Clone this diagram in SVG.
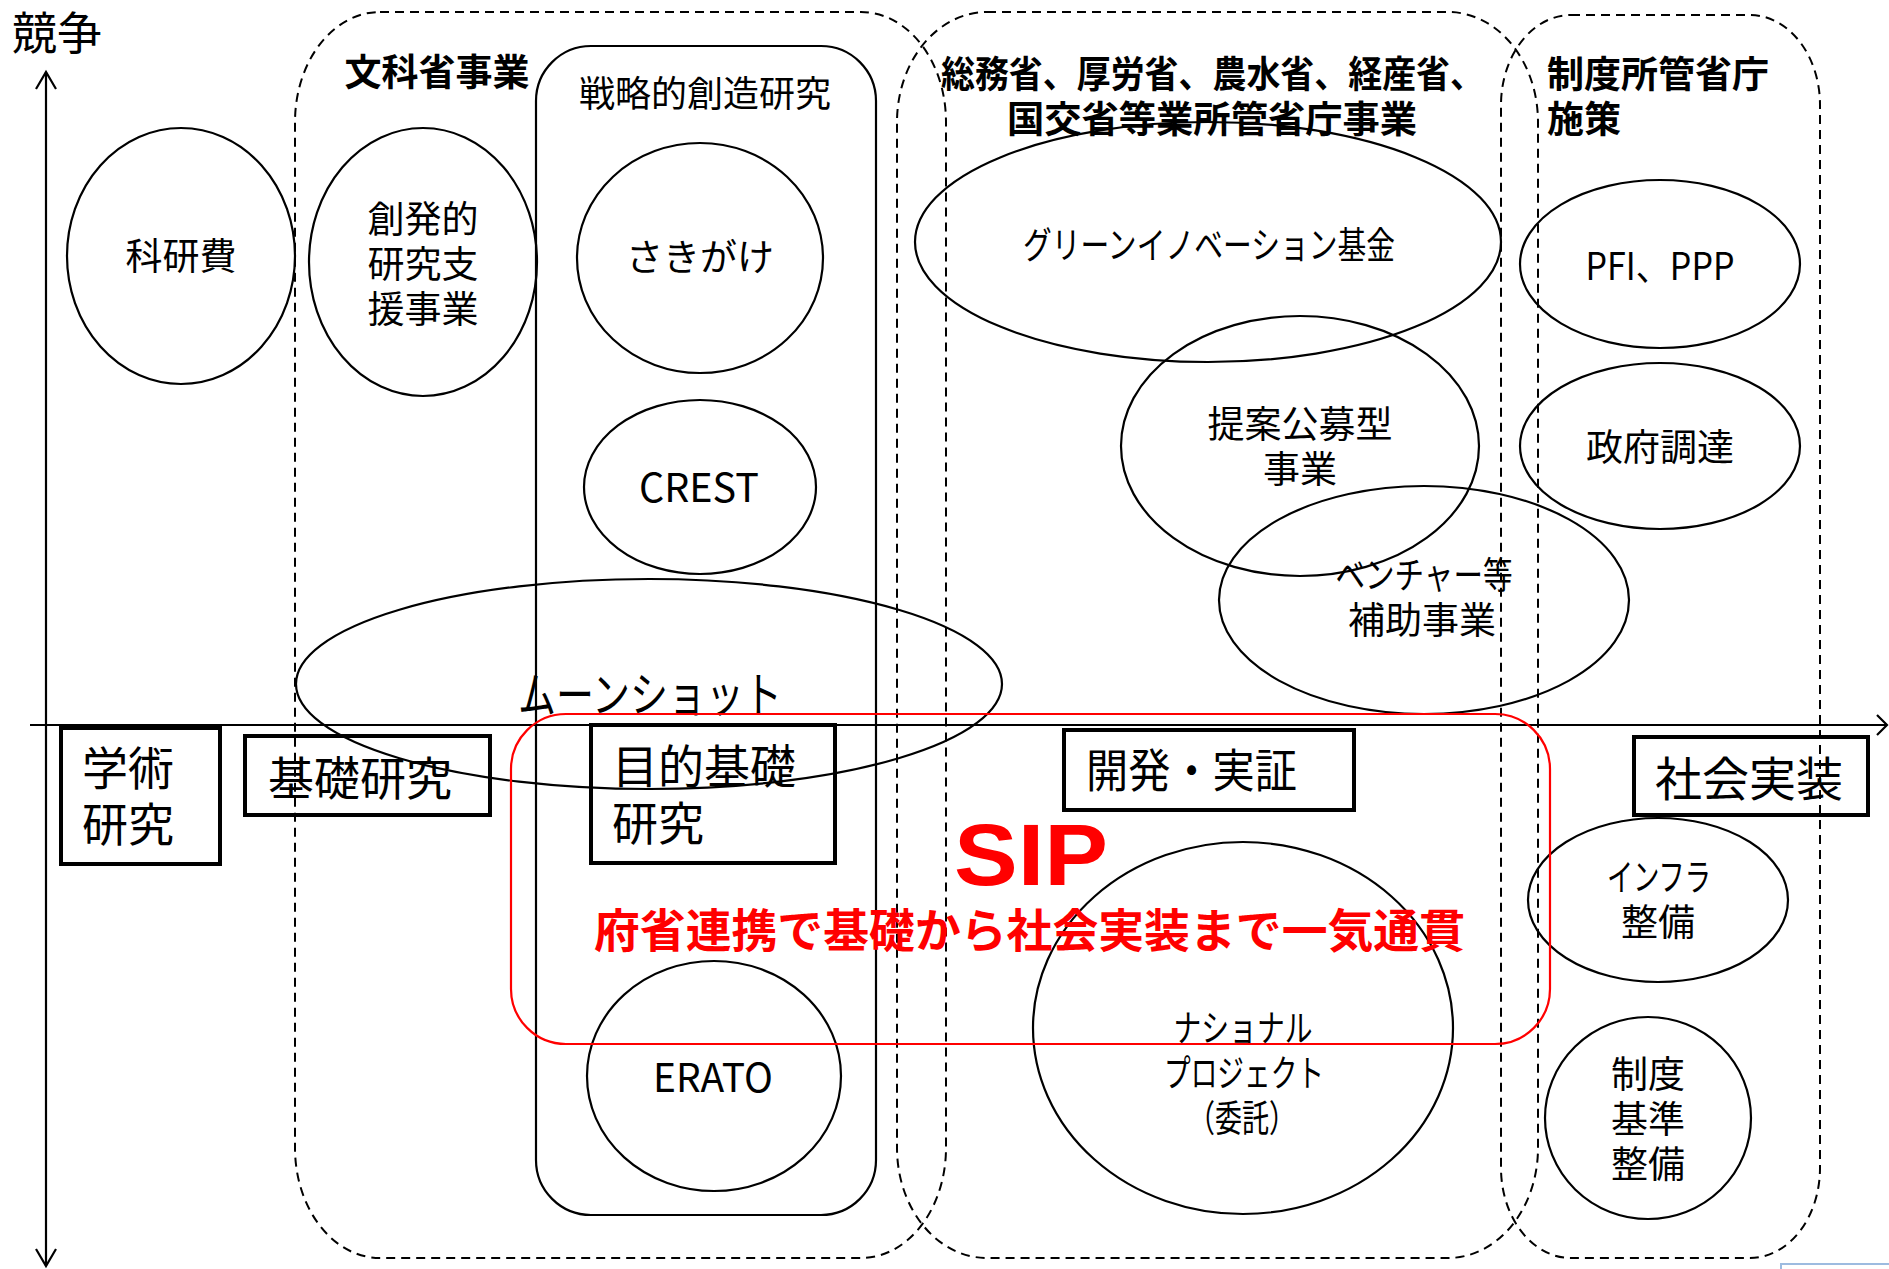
<svg xmlns="http://www.w3.org/2000/svg" width="1889" height="1269" viewBox="0 0 1889 1269">
<style>
 text { font-family: "Noto Sans CJK JP", "Noto Sans", sans-serif; fill:#000; }
 .t37 { font-size:37px; }
 .t46 { font-size:46px; }
 .b { font-weight:bold; }
 .mid { text-anchor:middle; }
 .ell { fill:none; stroke:#000; stroke-width:2.2; }
 .box { fill:none; stroke:#000; stroke-width:4; }
 .grp { fill:none; stroke:#000; stroke-width:2; stroke-dasharray:9 6; }
 .axis { fill:none; stroke:#000; stroke-width:2.2; }
 .red { fill:#ff0000; }
</style>
<rect width="1889" height="1269" fill="#fff"/>

<g id="connectors">
 <line class="axis" x1="46" y1="72" x2="46" y2="1266"/>
 <polyline class="axis" points="36,89 46,72 56,89"/>
 <polyline class="axis" points="36,1249 46,1266 56,1249"/>
 <line class="axis" x1="30" y1="725" x2="1887" y2="725"/>
 <polyline class="axis" points="1877,715 1887,725 1877,735"/>
</g>

<g id="label-kyoso"><text x="12" y="50" style="font-size:45px">競争</text></g>

<g id="grp-monka">
 <rect class="grp" x="295" y="12" width="651" height="1246" rx="85" ry="110"/>
 <text class="t37 b mid" x="437" y="86">文科省事業</text>
</g>
<g id="grp-others">
 <rect class="grp" x="897" y="12" width="641" height="1246" rx="90" ry="110"/>
 <text class="t37 b"><tspan x="941" y="88" textLength="543" lengthAdjust="spacingAndGlyphs">総務省、厚労省、農水省、経産省、</tspan><tspan x="1007" y="133" textLength="410" lengthAdjust="spacingAndGlyphs">国交省等業所管省庁事業</tspan></text>
</g>
<g id="grp-seido">
 <rect class="grp" x="1501" y="15" width="319" height="1243" rx="70" ry="90"/>
 <text class="t37 b"><tspan x="1547" y="88">制度所管省庁</tspan><tspan x="1547" y="133">施策</tspan></text>
</g>
<g id="senryaku">
 <rect x="536" y="46" width="340" height="1169" rx="55" ry="55" fill="none" stroke="#000" stroke-width="2.2"/>
 <text class="mid" x="705" y="107" style="font-size:36px">戦略的創造研究</text>
</g>

<g id="kakenhi">
 <ellipse class="ell" cx="181" cy="256" rx="114" ry="128"/>
 <text class="t37 mid" x="181" y="270">科研費</text>
</g>
<g id="souhatsu">
 <ellipse class="ell" cx="423" cy="262" rx="114" ry="134"/>
 <text class="t37 mid"><tspan x="423" y="233">創発的</tspan><tspan x="423" y="278">研究支</tspan><tspan x="423" y="323">援事業</tspan></text>
</g>
<g id="sakigake">
 <ellipse class="ell" cx="700" cy="258" rx="123" ry="115"/>
 <text class="t37 mid" x="700" y="271">さきがけ</text>
</g>
<g id="crest">
 <ellipse class="ell" cx="700" cy="487" rx="116" ry="87"/>
 <text class="mid" x="699" y="502" style="font-size:40px" textLength="120" lengthAdjust="spacingAndGlyphs">CREST</text>
</g>
<g id="moonshot">
 <ellipse class="ell" cx="649" cy="684" rx="353" ry="105"/>
 <text class="mid" x="650" y="712" style="font-size:48px" textLength="264" lengthAdjust="spacingAndGlyphs">ムーンショット</text>
</g>
<g id="erato">
 <ellipse class="ell" cx="714" cy="1076" rx="127" ry="115"/>
 <text class="mid" x="713" y="1092" style="font-size:40px" textLength="120" lengthAdjust="spacingAndGlyphs">ERATO</text>
</g>
<g id="green">
 <ellipse class="ell" cx="1208" cy="242" rx="293" ry="120"/>
 <text class="t37 mid" x="1209" y="259" textLength="372" lengthAdjust="spacingAndGlyphs">グリーンイノベーション基金</text>
</g>
<g id="teian">
 <ellipse class="ell" cx="1300" cy="446" rx="179" ry="130"/>
 <text class="t37 mid"><tspan x="1300" y="438">提案公募型</tspan><tspan x="1300" y="483">事業</tspan></text>
</g>
<g id="venture">
 <ellipse class="ell" cx="1424" cy="600" rx="205" ry="114"/>
 <text class="t37 mid"><tspan x="1424" y="589" textLength="177" lengthAdjust="spacingAndGlyphs">ベンチャー等</tspan><tspan x="1422" y="634">補助事業</tspan></text>
</g>
<g id="pfi">
 <ellipse class="ell" cx="1660" cy="264" rx="140" ry="84"/>
 <text class="mid" x="1660" y="280" style="font-size:38px" textLength="149" lengthAdjust="spacingAndGlyphs">PFI、PPP</text>
</g>
<g id="seifu">
 <ellipse class="ell" cx="1660" cy="446" rx="140" ry="83"/>
 <text class="t37 mid" x="1660" y="461">政府調達</text>
</g>
<g id="infra">
 <ellipse class="ell" cx="1658" cy="900" rx="130" ry="82"/>
 <text class="t37 mid"><tspan x="1659" y="891" textLength="104" lengthAdjust="spacingAndGlyphs">インフラ</tspan><tspan x="1658" y="936">整備</tspan></text>
</g>
<g id="seido-kijun">
 <ellipse class="ell" cx="1648" cy="1118" rx="103" ry="101"/>
 <text class="t37 mid"><tspan x="1648" y="1088">制度</tspan><tspan x="1648" y="1133">基準</tspan><tspan x="1648" y="1178">整備</tspan></text>
</g>
<g id="national">
 <ellipse class="ell" cx="1243" cy="1028" rx="210" ry="186"/>
 <text class="t37 mid"><tspan x="1243" y="1042" textLength="139" lengthAdjust="spacingAndGlyphs">ナショナル</tspan><tspan x="1244" y="1087" textLength="160" lengthAdjust="spacingAndGlyphs">プロジェクト</tspan><tspan x="1242" y="1132" textLength="108" lengthAdjust="spacingAndGlyphs">（委託）</tspan></text>
</g>

<g id="gakujutsu">
 <rect class="box" x="61" y="728" width="159" height="136"/>
 <text class="t46"><tspan x="82" y="785">学術</tspan><tspan x="82" y="841">研究</tspan></text>
</g>
<g id="kiso">
 <rect class="box" x="245" y="736" width="245" height="79"/>
 <text class="t46 mid" x="360" y="795">基礎研究</text>
</g>
<g id="mokuteki">
 <rect class="box" x="591" y="725" width="244" height="138"/>
 <text class="t46"><tspan x="612" y="783">目的基礎</tspan><tspan x="612" y="840">研究</tspan></text>
</g>
<g id="kaihatsu">
 <rect class="box" x="1064" y="730" width="290" height="80"/>
 <text class="t46" x="1086" y="787" textLength="211" lengthAdjust="spacingAndGlyphs">開発・実証</text>
</g>
<g id="shakai">
 <rect class="box" x="1634" y="737" width="234" height="78"/>
 <text class="mid" x="1749" y="796" style="font-size:47px">社会実装</text>
</g>

<g id="sip">
 <rect x="511" y="714" width="1039" height="330" rx="55" ry="55" fill="none" stroke="#ff0000" stroke-width="2.2"/>
 <text class="red b" x="954" y="885" style="font-family:'Liberation Sans','Noto Sans CJK JP',sans-serif;font-size:88px" textLength="154" lengthAdjust="spacingAndGlyphs">SIP</text>
 <text class="red b" x="594" y="947" style="font-size:46px" textLength="871" lengthAdjust="spacingAndGlyphs">府省連携で基礎から社会実装まで一気通貫</text>
</g>

<rect x="1781" y="1264" width="115" height="12" fill="none" stroke="#9dbbe0" stroke-width="2"/>
</svg>
